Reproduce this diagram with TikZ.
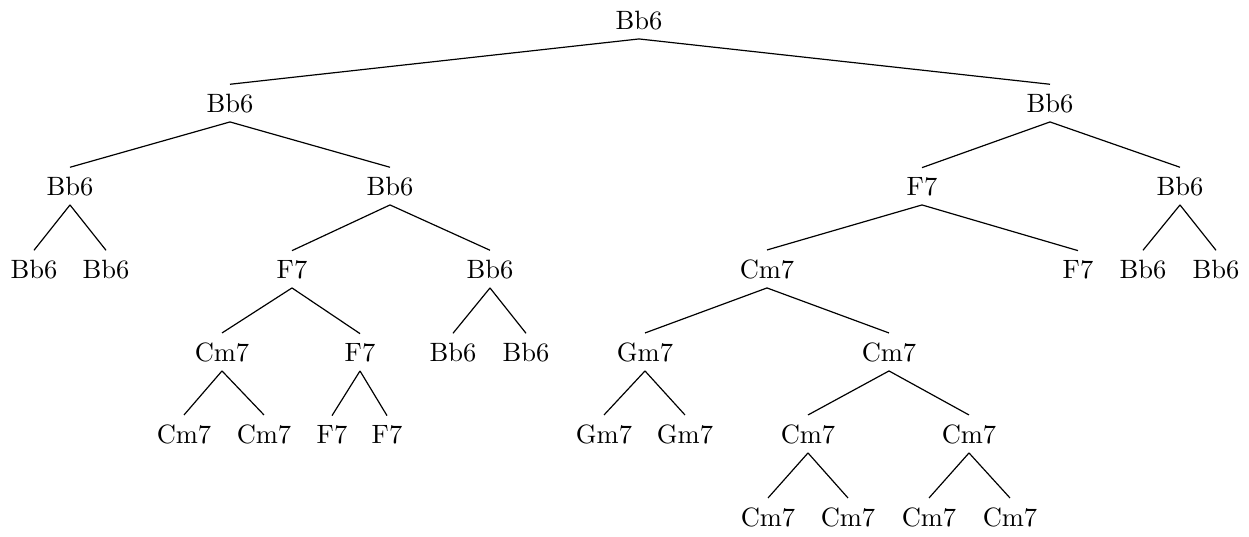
\documentclass[tikz,border=0pt]{standalone}
\begin{document}
\begin{tikzpicture}[x=0.3774pt,y=-0.3774pt,
  lbl/.style={anchor=base,inner sep=3.33pt},
  edge/.style={draw=black,line width=0.45pt}]
\useasboundingbox (0,0) rectangle (1249,536);
% level 0
\node[lbl] (r) at (639,29) {Bb6};
% level 1
\node[lbl] (a) at (230,112) {Bb6};
\node[lbl] (b) at (1050,112) {Bb6};
% level 2
\node[lbl] (aa) at (70,195) {Bb6};
\node[lbl] (ab) at (390,195) {Bb6};
\node[lbl] (ba) at (922,195) {F7};
\node[lbl] (bb) at (1180,195) {Bb6};
% level 3
\node[lbl] (aaa) at (34,278) {Bb6};
\node[lbl] (aab) at (106,278) {Bb6};
\node[lbl] (aba) at (292,278) {F7};
\node[lbl] (abb) at (490,278) {Bb6};
\node[lbl] (baa) at (767,278) {Cm7};
\node[lbl] (bab) at (1078,278) {F7};
\node[lbl] (bba) at (1143,278) {Bb6};
\node[lbl] (bbb) at (1216,278) {Bb6};
% level 4
\node[lbl] (abaa) at (222,361) {Cm7};
\node[lbl] (abab) at (360,361) {F7};
\node[lbl] (abba) at (453,361) {Bb6};
\node[lbl] (abbb) at (526,361) {Bb6};
\node[lbl] (baaa) at (645,361) {Gm7};
\node[lbl] (baab) at (889,361) {Cm7};
% level 5
\node[lbl] (abaaa) at (184,443) {Cm7};
\node[lbl] (abaab) at (264,443) {Cm7};
\node[lbl] (ababa) at (332,443) {F7};
\node[lbl] (ababb) at (387,443) {F7};
\node[lbl] (baaaa) at (604,443) {Gm7};
\node[lbl] (baaab) at (685,443) {Gm7};
\node[lbl] (baaba) at (808,443) {Cm7};
\node[lbl] (baabb) at (969,443) {Cm7};
% level 6
\node[lbl] (baabaa) at (768,526) {Cm7};
\node[lbl] (baabab) at (848,526) {Cm7};
\node[lbl] (baabba) at (929,526) {Cm7};
\node[lbl] (baabbb) at (1010,526) {Cm7};
% edges
\foreach \p/\c in {r/a,r/b,a/aa,a/ab,b/ba,b/bb,aa/aaa,aa/aab,ab/aba,ab/abb,ba/baa,ba/bab,bb/bba,bb/bbb,
  aba/abaa,aba/abab,abb/abba,abb/abbb,baa/baaa,baa/baab,
  abaa/abaaa,abaa/abaab,abab/ababa,abab/ababb,baaa/baaaa,baaa/baaab,baab/baaba,baab/baabb,
  baaba/baabaa,baaba/baabab,baabb/baabba,baabb/baabbb}
  \draw[edge] (\p.south) -- (\c.north);
\end{tikzpicture}
\end{document}
